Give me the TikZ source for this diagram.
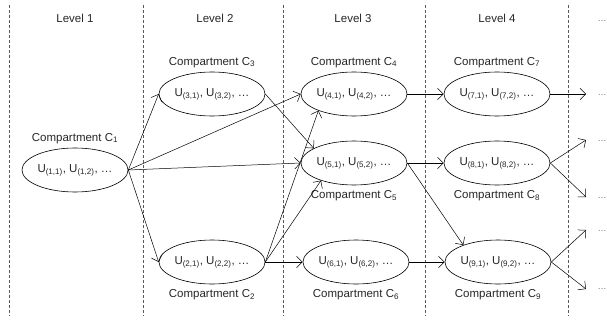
\documentclass[tikz,border=0pt]{standalone}
\usepackage{fontspec}
\setmainfont{Liberation Sans}
\usetikzlibrary{arrows.meta,positioning,shapes.geometric}

\begin{document}
\begin{tikzpicture}[x=1pt, y=-1pt, every node/.style={font=\fontsize{11.5}{13}\selectfont, text=black!85}, >={Straight Barb[length=2mm]},
	comp/.style={draw, ellipse, line width=0.6pt, minimum width=102pt, minimum height=44pt, inner sep=0pt},
	tag/.style={inner sep=1pt},
	dots/.style={inner sep=0pt, anchor=base, font=\fontsize{9}{10}\selectfont, text=black!60},
	flow/.style={->, line width=0.5pt},
	sep/.style={gray!70!black, line width=0.6pt, dash pattern=on 3pt off 2pt}]
	\useasboundingbox (0,0) rectangle (607,321);
	\foreach \x in {9,143,283,425,568} {\draw[sep] (\x,5) -- (\x,316);}
	% levels
	\foreach \x/\n in {75/1,215/2,353/3,497/4} {\node (L\n) at (\x,18) {Level \n};}
	% compartments
	\node[comp] (C1) at (75,170) {U\textsubscript{(1,1)}, U\textsubscript{(1,2)}, …};
	\node[comp] (C3) at (212,94) {U\textsubscript{(3,1)}, U\textsubscript{(3,2)}, …};
	\node[comp] (C2) at (212,262) {U\textsubscript{(2,1)}, U\textsubscript{(2,2)}, …};
	\node[comp] (C4) at (354,94) {U\textsubscript{(4,1)}, U\textsubscript{(4,2)}, …};
	\node[comp] (C5) at (354,163) {U\textsubscript{(5,1)}, U\textsubscript{(5,2)}, …};
	\node[comp] (C6) at (356,262) {U\textsubscript{(6,1)}, U\textsubscript{(6,2)}, …};
	\node[comp] (C7) at (497,94) {U\textsubscript{(7,1)}, U\textsubscript{(7,2)}, …};
	\node[comp] (C8) at (497,163) {U\textsubscript{(8,1)}, U\textsubscript{(8,2)}, …};
	\node[comp] (C9) at (498,262) {U\textsubscript{(9,1)}, U\textsubscript{(9,2)}, …};
	% names
	\node[tag, above=3pt of C1] (T1) {Compartment C\textsubscript{1}};
	\node[tag, above=3pt of C3] (T3) {Compartment C\textsubscript{3}};
	\node[tag, above=3pt of C4] (T4) {Compartment C\textsubscript{4}};
	\node[tag, above=3pt of C7] (T7) {Compartment C\textsubscript{7}};
	\node[tag, below=4pt of C5] (T5) {Compartment C\textsubscript{5}};
	\node[tag, below=4pt of C8] (T8) {Compartment C\textsubscript{8}};
	\node[tag, below=4pt of C2] (T2) {Compartment C\textsubscript{2}};
	\node[tag, below=4pt of C6] (T6) {Compartment C\textsubscript{6}};
	\node[tag, below=4pt of C9] (T9) {Compartment C\textsubscript{9}};
	% continuation
	\foreach \i/\y in {0/22,1/95,2/141,3/198,4/231,5/289} {\node[dots] (d\i) at (602,\y) {…};}
	\foreach \i/\y in {1/94,2/140,3/197,4/230,5/289} {\coordinate (e\i) at (586,\y);}
	% flows
	\draw[flow] (C1.east) -- (C3.west);
	\draw[flow] (C1.east) -- (C4.west);
	\draw[flow] (C1.east) -- (C5.west);
	\draw[flow] (C1.east) -- (C2.west);
	\draw[flow] (C3.east) -- (C5.160);
	\draw[flow] (C2.east) -- (C4.205);
	\draw[flow] (C2.east) -- (C5.208);
	\draw[flow] (C2.east) -- (C6.west);
	\draw[flow] (C4.east) -- (C7.west);
	\draw[flow] (C5.east) -- (C8.west);
	\draw[flow] (C5.east) -- (C9.154);
	\draw[flow] (C6.east) -- (C9.west);
	\draw[flow] (C7.east) -- (e1);
	\draw[flow] (C8.east) -- (e2);
	\draw[flow] (C8.east) -- (e3);
	\draw[flow] (C9.east) -- (e4);
	\draw[flow] (C9.east) -- (e5);
\end{tikzpicture}
\end{document}
